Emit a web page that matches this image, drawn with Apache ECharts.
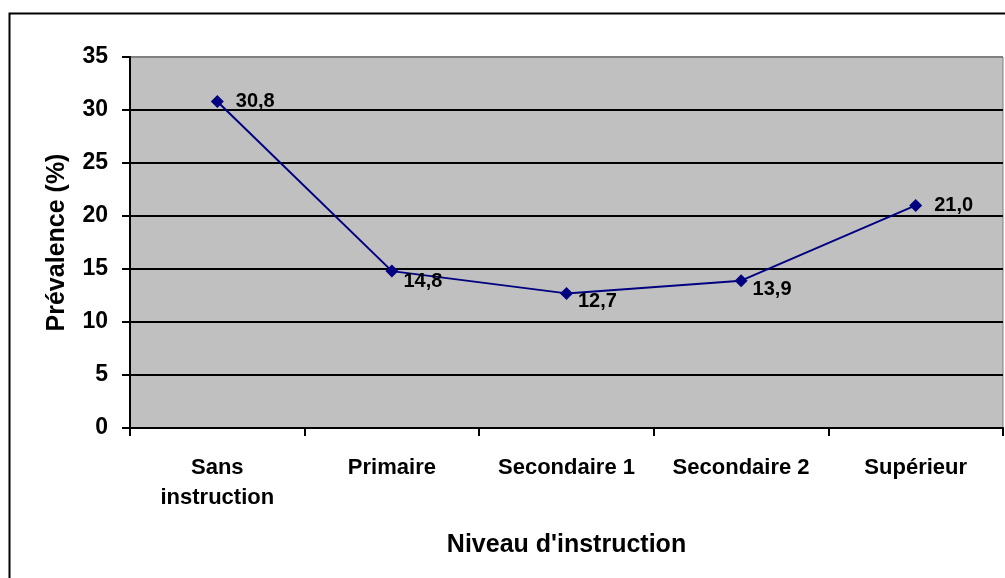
<!DOCTYPE html>
<html>
<head>
<meta charset="utf-8">
<script src="https://cdn.jsdelivr.net/npm/echarts@6/dist/echarts.min.js"></script>
<style>
  html, body { margin: 0; padding: 0; background: #fff; }
  #chart { width: 1005px; height: 578px; }
</style>
</head>
<body>
<div id="chart"></div>
<script>
// niveaux d'instruction
const categories = ['Sans\ninstruction', 'Primaire', 'Secondaire 1', 'Secondaire 2', 'Supérieur'];
// prévalence (%)
const prevalence = [30.8, 14.8, 12.7, 13.9, 21.0];
const yTicks = { min: 0, max: 35, interval: 5 };

const font = 'Liberation Sans, Arial, sans-serif';
// decalage des etiquettes (comme dans Excel, certaines sont en dessous)
const labelOffsets = [[0, 0], [-7, 10], [-7, 8], [-7, 9], [0, 0]];

let chart = echarts.init(document.getElementById('chart'));

let opt = {
	animation: false,
	backgroundColor: '#fff',
	graphic: [{
		type: 'rect',
		shape: { x: 9.5, y: 13.5, width: 1010, height: 580 },
		style: { fill: 'none', stroke: '#000', lineWidth: 2 },
		z: 100
	}],
	grid: {
		left: 130, right: 2, top: 57, bottom: 150,
		show: true,
		backgroundColor: '#c0c0c0',
		borderColor: '#808080',
		borderWidth: 1
	},
	xAxis: {
		type: 'category',
		data: categories,
		boundaryGap: true,
		name: "Niveau d'instruction",
		nameLocation: 'middle',
		nameGap: 105,
		nameTextStyle: { fontFamily: font, fontWeight: 'bold', fontSize: 25, color: '#000' },
		axisLine: { lineStyle: { color: '#000', width: 2 } },
		axisTick: { show: true, length: 8, alignWithLabel: false, lineStyle: { color: '#000', width: 2 } },
		axisLabel: {
			interval: 0, margin: 25, color: '#000',
			fontFamily: font, fontWeight: 'bold', fontSize: 22, lineHeight: 30
		},
		splitLine: { show: false }
	},
	yAxis: {
		type: 'value',
		min: yTicks.min, max: yTicks.max, interval: yTicks.interval,
		name: 'Prévalence (%)',
		nameLocation: 'middle',
		nameGap: 60,
		nameTextStyle: { fontFamily: font, fontWeight: 'bold', fontSize: 25, color: '#000' },
		axisLine: { show: true, lineStyle: { color: '#000', width: 2 } },
		axisTick: { show: true, length: 8, lineStyle: { color: '#000', width: 2 } },
		axisLabel: { margin: 22, color: '#000', fontFamily: font, fontWeight: 'bold', fontSize: 23 },
		splitLine: {
			show: true,
			lineStyle: { color: ['#000', '#000', '#000', '#000', '#000', '#000', '#000', '#808080'], width: 2 }
		}
	},
	series: [{
		type: 'line',
		data: prevalence.map((v, i) => ({
			value: v,
			label: { offset: labelOffsets[i] }
		})),
		symbol: 'diamond',
		symbolSize: 13,
		itemStyle: { color: '#000080' },
		lineStyle: { color: '#000080', width: 2 },
		label: {
			show: true,
			position: 'right',
			distance: 12,
			color: '#000',
			fontFamily: font,
			fontWeight: 'bold',
			fontSize: 20,
			formatter: p => p.value.toFixed(1).replace('.', ',')
		}
	}]
};

chart.setOption(opt);
</script>
</body>
</html>
